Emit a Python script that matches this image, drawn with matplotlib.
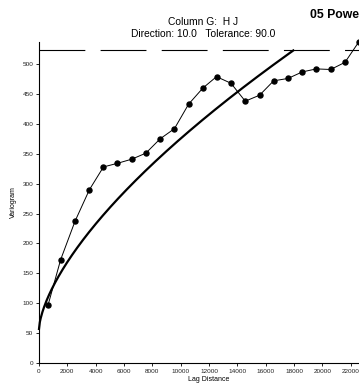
import numpy as np
from matplotlib import pyplot as plt

plt.rcParams['font.family'] = ['Liberation Sans', 'DejaVu Sans']
plt.rcParams['lines.scale_dashes'] = False

arrLag = [640, 1530, 2540, 3560, 4550, 5530, 6550, 7540, 8550, 9560,
          10560, 11570, 12530, 13550, 14560, 15570, 16560, 17570, 18590,
          19580, 20590, 21600, 22570]
arrGamma = [97, 173, 237, 290, 328, 334, 341, 351, 375, 392,
            433, 460, 479, 468, 438, 448, 472, 476, 487, 492,
            491, 503, 537]

# power model parameters
nNugget = 57.0
nScale = 0.80
nPower = 0.65
nModelMax = 17950

nSill = 523.0

xTicks = list(range(0, 22001, 2000))
yTicks = list(range(0, 501, 50))

fig = plt.figure(figsize=(3.59, 3.90), dpi=100)
ax = fig.add_axes([39/359, 27/390, 340/359, 321/390])

arrH = np.linspace(0, nModelMax, 300)
ax.plot(arrH, nNugget + nScale * arrH**nPower, color='black', lw=1.6, clip_on=False)
ax.plot(arrLag, arrGamma, color='black', lw=0.7, marker='o', ms=3.6, clip_on=False)
ax.axhline(nSill, color='black', lw=0.8, dashes=(33, 11))

ax.set_xlim(0, 24000)
ax.set_ylim(0, 537)
ax.set_xticks(xTicks)
ax.set_yticks(yTicks)
ax.tick_params(labelsize=4.6, length=2.5, width=0.6, pad=1.5, labelcolor='#222222')
ax.spines['top'].set_visible(False)
ax.spines['right'].set_visible(False)
ax.spines['left'].set_linewidth(0.8)
ax.spines['bottom'].set_linewidth(0.8)
ax.set_xlabel('Lag Distance', fontsize=5, labelpad=2)
ax.set_ylabel('Variogram', fontsize=5, labelpad=4)

fig.text(203/359, 1 - 22/390, 'Column G:  H J', ha='center', va='center', fontsize=7.4)
fig.text(203/359, 1 - 34/390, 'Direction: 10.0   Tolerance: 90.0', ha='center', va='center', fontsize=7.4)
fig.text(310/359, 1 - 15.5/390, '05 Power', ha='left', va='center', fontsize=8.8, fontweight='bold')

plt.savefig('out.png', dpi=100)
